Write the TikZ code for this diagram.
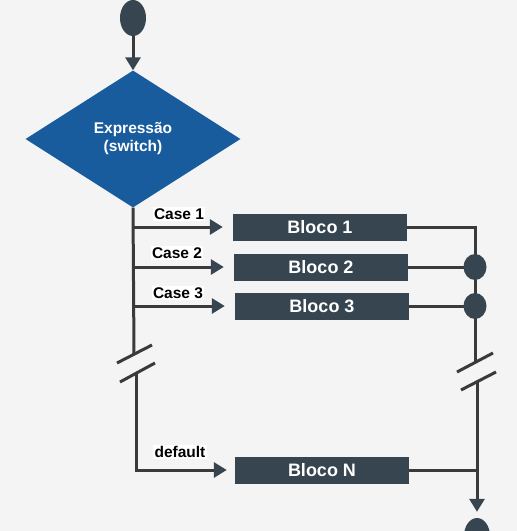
\documentclass[tikz,border=0pt]{standalone}
\usepackage{fontspec}
\setmainfont{Liberation Sans}
\usetikzlibrary{shapes.geometric,arrows.meta}
\definecolor{ardosia}{HTML}{36454F}
\definecolor{azul}{HTML}{185C9E}
\definecolor{linha}{HTML}{3A3A3A}
\definecolor{fundo}{HTML}{F4F4F4}
\tikzset{
bloco/.style={fill=ardosia,text=white,font=\bfseries\fontsize{18}{20}\selectfont,minimum width=174pt,minimum height=27pt,inner sep=0pt},
caso/.style={fill=white,inner sep=1.5pt,font=\bfseries\fontsize{15.5}{17}\selectfont},
fio/.style={draw=linha,line width=3pt},
seta/.style={fio,-{Triangle[length=13pt,width=15pt,color=ardosia]}},
juncao/.style={ellipse,fill=ardosia,minimum width=23pt,minimum height=26pt,inner sep=0pt},
}
\begin{document}
\begin{tikzpicture}[x=1pt,y=-1pt]
\fill[fundo](0,0)rectangle(517,531);
\useasboundingbox(0,0)rectangle(517,531);
\node[juncao,minimum width=26pt,minimum height=36pt](inicio)at(133,18){};
\node[diamond,aspect=1.57,fill=azul,text=white,align=center,inner sep=0pt,minimum width=215pt,minimum height=137pt,font=\bfseries\fontsize{15.5}{18}\selectfont](expr)at(133,139){Expressão\\(switch)};
\node[bloco](bloco1)at(320,227){Bloco 1};
\node[bloco](bloco2)at(321,267){Bloco 2};
\node[bloco](bloco3)at(322,306){Bloco 3};
\node[bloco](blocoN)at(322,470){Bloco N};
\node[juncao,minimum width=26pt,minimum height=36pt](fim)at(477,536){};
\coordinate(corteA)at(134,354);
\coordinate(corteB)at(136,373);
\coordinate(corteC)at(475,362);
\coordinate(corteD)at(477,381);
\coordinate(j2)at(475,267);
\coordinate(j3)at(475,306);
% entrada
\draw[seta](inicio.south)--(expr.north);
% ramos da esquerda
\draw[fio](expr.south)--(corteA);
\draw[seta,shorten >=10pt](expr.south|-bloco1.west)--(bloco1.west);
\draw[seta,shorten >=10pt](expr.south|-bloco2.west)--(bloco2.west);
\draw[seta,shorten >=10pt](expr.south|-bloco3.west)--(bloco3.west);
\draw[seta,shorten >=8pt](corteB)|-(blocoN.west);
\node[caso](case1)at(179,214){Case 1};
\node[caso](case2)at(177,253){Case 2};
\node[caso](case3)at(178,293){Case 3};
\node[caso](default)at(180,452){default};
% ramos da direita
\draw[fio](bloco1.east)-|(corteC);
\draw[fio](bloco2.east)--(j2);
\draw[fio](bloco3.east)--(j3);
\draw[fio](blocoN.east)--(blocoN.east-|fim);
\draw[seta,shorten >=6pt](corteD)--(fim.north);
\node[juncao](junta2)at(j2){};
\node[juncao](junta3)at(j3){};
% cortes
\draw[fio](117,363)--(152,345);
\draw[fio](120,382)--(155,363);
\draw[fio](457,372)--(493,353);
\draw[fio](461,390)--(496,372);
\end{tikzpicture}
\end{document}
